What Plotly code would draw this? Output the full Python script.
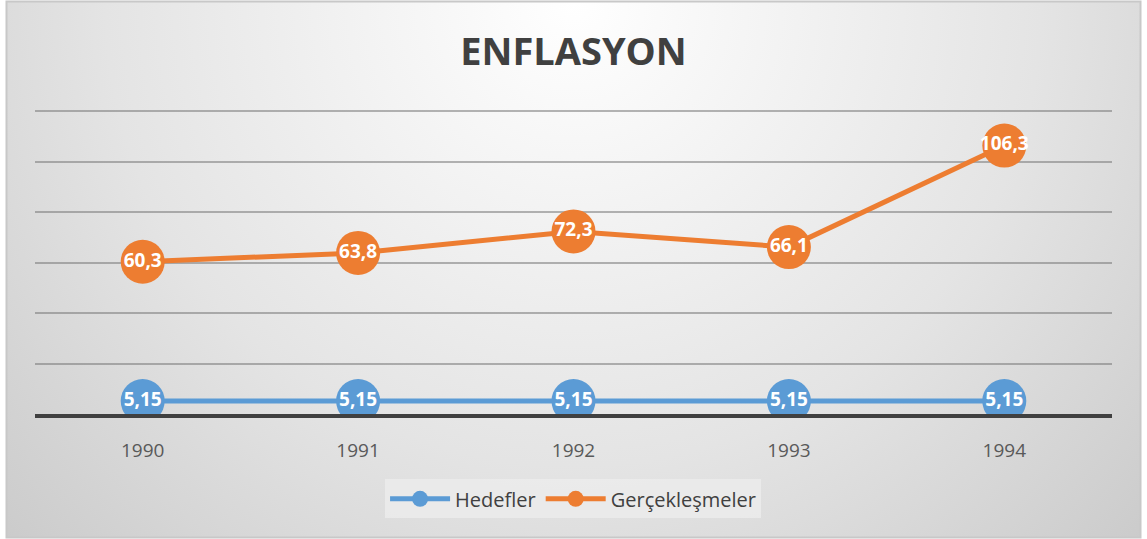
import base64
import plotly.graph_objects as go

years = ["1990", "1991", "1992", "1993", "1994"]
hedefler = [5.15, 5.15, 5.15, 5.15, 5.15]
gerceklesmeler = [60.3, 63.8, 72.3, 66.1, 106.3]
hedef_labels = ["5,15", "5,15", "5,15", "5,15", "5,15"]
gercek_labels = ["60,3", "63,8", "72,3", "66,1", "106,3"]

W, H = 1147, 539
L, R, T, B = 35, 35, 110, 125
pw, ph = W - L - R, H - T - B

svg = f'''<svg xmlns="http://www.w3.org/2000/svg" width="{W}" height="{H}" viewBox="0 0 {W} {H}" preserveAspectRatio="none">
<defs><radialGradient id="g" cx="0.5" cy="0.0" r="0.75" gradientTransform="translate(0.5 0) scale(1 2.1) translate(-0.5 0)">
<stop offset="0" stop-color="#ffffff"/><stop offset="0.55" stop-color="#e4e4e4"/><stop offset="1" stop-color="#c6c6c6"/></radialGradient></defs>
<rect x="0" y="0" width="{W}" height="{H}" fill="#ffffff"/>
<rect x="6.5" y="1.5" width="{W-13}" height="{H-3}" fill="url(#g)" stroke="#c8c8c8" stroke-width="2"/>
</svg>'''
src = "data:image/svg+xml;base64," + base64.b64encode(svg.encode()).decode()

label_font = dict(color="white", size=19, family="Open Sans", weight="bold")

fig = go.Figure()
fig.add_trace(go.Scatter(
    x=years, y=hedefler, name="Hedefler", mode="lines+markers+text",
    line=dict(color="#5B9BD5", width=5),
    marker=dict(color="#5B9BD5", size=44),
    text=hedef_labels, textposition="middle center", textfont=label_font,
))
fig.add_trace(go.Scatter(
    x=years, y=gerceklesmeler, name="Gerçekleşmeler", mode="lines+markers+text",
    line=dict(color="#ED7D31", width=5),
    marker=dict(color="#ED7D31", size=44),
    text=gercek_labels, textposition="middle center", textfont=label_font,
))

fig.update_layout(
    width=W, height=H,
    margin=dict(l=L, r=R, t=T, b=B),
    paper_bgcolor="rgba(0,0,0,0)", plot_bgcolor="rgba(0,0,0,0)",
    title=dict(text="<b>ENFLASYON</b>", x=0.5, xanchor="center", y=0.905, yanchor="middle",
               font=dict(size=38, color="#404040", family="Open Sans")),
    font=dict(family="Open Sans", color="#595959"),
    xaxis=dict(type="category", range=[-0.5, 4.5], showgrid=False,
               showline=True, linecolor="#404040", linewidth=4, layer="below traces",
               ticks="", tickfont=dict(size=19, color="#595959"), ticklabelstandoff=16),
    yaxis=dict(range=[0, 120.4], dtick=20, showticklabels=False, showline=False,
               zeroline=False, gridcolor="rgba(120,120,120,0.55)", gridwidth=2),
    legend=dict(orientation="h", x=0.4996, xanchor="center", y=-0.215, yanchor="top",
                bgcolor="rgba(236,236,236,0.8)", font=dict(size=20, color="#404040"),
                itemwidth=60),
    showlegend=True,
    images=[dict(source=src, xref="paper", yref="paper",
                 x=-L / pw, y=(ph + T) / ph, sizex=W / pw, sizey=H / ph,
                 sizing="stretch", layer="below", xanchor="left", yanchor="top")],
)

fig.write_html("out.html", config={"displayModeBar": False},
               post_script="document.body.style.margin='0';")
